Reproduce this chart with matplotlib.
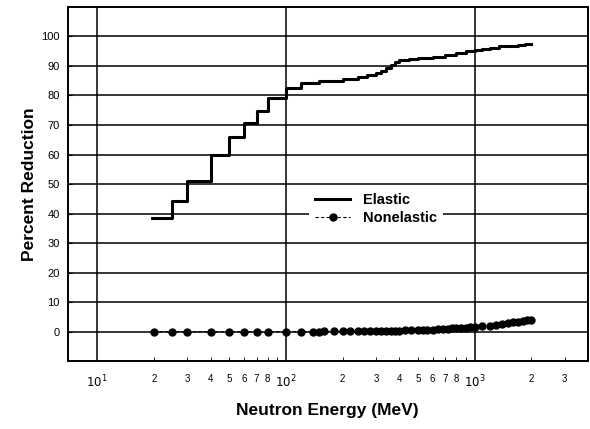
import numpy as np
import matplotlib.pyplot as plt
from matplotlib.ticker import FixedLocator, FixedFormatter

plt.rcParams['font.family'] = ['Liberation Sans', 'DejaVu Sans']

# Elastic: step curve (energy in MeV where each step starts, percent reduction)
elastic_E = [19.5, 25, 30, 40, 50, 60, 70, 80, 100, 120, 150, 200, 240, 270, 300,
             320, 340, 360, 380, 400, 450, 500, 600, 700, 800, 900, 1000, 1100, 1200,
             1350, 1500, 1700, 1850, 2000]
elastic_pct = [38.4, 44.2, 51, 59.7, 66, 70.8, 74.7, 79, 82.6, 84.3, 85, 85.6, 86.2, 86.8, 87.5,
               88.3, 89.2, 90.3, 91.3, 92.0, 92.4, 92.6, 93.0, 93.6, 94.4, 94.9, 95.3, 95.7, 96.1,
               96.6, 96.9, 97.2, 97.4, 97.5]

# Nonelastic: dots
nonel_E = [20, 25, 30, 40, 50, 60, 70, 80, 100, 120, 140, 150, 160, 180, 200, 220, 240,
           260, 280, 300, 320, 340, 360, 380, 400, 430, 460, 500, 530, 560, 600, 640,
           680, 720, 760, 800, 850, 900, 950, 1000, 1100, 1200, 1300, 1400, 1500, 1600,
           1700, 1800, 1900, 2000]
nonel_pct = [0, 0, 0, 0, 0, 0, 0, 0, 0, 0.05, 0.05, 0.05, 0.1, 0.1, 0.1, 0.15, 0.15,
             0.2, 0.2, 0.25, 0.3, 0.3, 0.35, 0.4, 0.4, 0.45, 0.5, 0.55, 0.6, 0.65, 0.7, 0.8,
             0.9, 1.0, 1.1, 1.15, 1.25, 1.35, 1.45, 1.5, 1.8, 2.0, 2.3, 2.6, 2.9, 3.2,
             3.4, 3.6, 3.8, 4.0]

fig = plt.figure(figsize=(5.9, 4.29), dpi=100)
ax = fig.add_axes([0.115, 0.158, 0.882, 0.826])

ax.step(elastic_E, elastic_pct, where='post', color='black', lw=2.2, label='Elastic')
ax.plot(nonel_E, nonel_pct, color='black', lw=0.8, ls='--', marker='o', ms=5,
        label='Nonelastic', dashes=(3, 2))

ax.set_xscale('log')
ax.set_xlim(7, 4000)
ax.set_ylim(-10, 110)

# grid
for yv in range(0, 101, 10):
    ax.axhline(yv, color='black', lw=1.1, zorder=0)
for xv in [10, 100, 1000]:
    ax.axvline(xv, color='black', lw=1.1, zorder=0)

ax.set_yticks(range(0, 101, 10))
ax.tick_params(axis='y', direction='in', length=3, pad=6, labelsize=8)

major = [10, 100, 1000]
minor = [m * d for d in [10, 100] for m in range(2, 10)] + [2000, 3000]
ax.xaxis.set_major_locator(FixedLocator(major))
ax.xaxis.set_major_formatter(FixedFormatter([r'$10^1$', r'$10^2$', r'$10^3$']))
ax.xaxis.set_minor_locator(FixedLocator(minor))
minor_labels = [str(m) if m != 9 else '' for d in [10, 100] for m in range(2, 10)] + ['2', '3']
ax.xaxis.set_minor_formatter(FixedFormatter(minor_labels))
ax.tick_params(axis='x', which='major', direction='in', length=0, pad=9, labelsize=8.5)
ax.tick_params(axis='x', which='minor', direction='in', length=3, pad=9, labelsize=7)

for s in ax.spines.values():
    s.set_linewidth(1.4)

ax.set_ylabel('Percent Reduction', fontsize=12.5, fontweight='bold', labelpad=3)
fig.text(0.555, 0.044, 'Neutron Energy (MeV)', fontsize=12.5, fontweight='bold',
         ha='center', va='center')

leg = ax.legend(loc='center left', bbox_to_anchor=(0.45, 0.43), frameon=True,
                fancybox=False, handlelength=2.4, handletextpad=0.9,
                labelspacing=0.25, borderpad=0.4,
                prop={'weight': 'bold', 'size': 10.5})
leg.get_frame().set_edgecolor('none')
leg.get_frame().set_facecolor('white')
leg.get_frame().set_alpha(1)

fig.savefig('out.png', dpi=100)
